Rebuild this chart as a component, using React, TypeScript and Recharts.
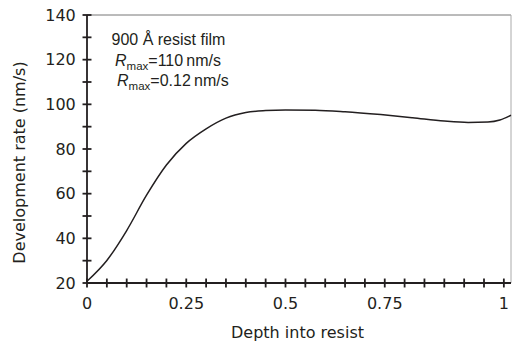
import { Line, LineChart, ReferenceLine, XAxis, YAxis } from "recharts"

// depth into resist (axis units) and development rate (nm/s)
const depth = [0, 0.05, 0.1, 0.15, 0.2, 0.25, 0.3, 0.35, 0.4, 0.45, 0.5, 0.575, 0.65, 0.74, 0.82, 0.9, 0.96, 1.01, 1.04, 1.068]
const rate = [20.8, 30.1, 43.5, 59.3, 72.8, 82.5, 89, 93.8, 96.3, 97.2, 97.5, 97.4, 96.7, 95.4, 94.0, 92.5, 91.9, 92.1, 93.0, 95.1]

const xTicks = [0, 0.05, 0.1, 0.15, 0.2, 0.25, 0.3, 0.35, 0.4, 0.45, 0.5, 0.55, 0.6, 0.65, 0.7, 0.75, 0.8, 0.85, 0.9, 0.95, 1, 1.05]
const xTickLabels: Record<string, string> = { "0": "0", "0.25": "0.25", "0.5": "0.5", "0.75": "0.75", "1.05": "1" }
const yTicks = [20, 30, 40, 50, 60, 70, 80, 90, 100, 110, 120, 130, 140]
const yTickLabels = [20, 40, 60, 80, 100, 120, 140]
const xMin = 0
const xMax = 1.068
const yMin = 20
const yMax = 140

const xTitle = "Depth into resist"
const yTitle = "Development rate (nm/s)"
const notes = ["900 Å resist film", "=110\u2009nm/s", "=0.12\u2009nm/s"]

const data = depth.map((d, i) => ({ depth: d, rate: rate[i] }))

const W = 512
const H = 345
const M = { top: 15, right: 1, left: 0, bottom: 0 }
const Y_AXIS_W = 87
const X_AXIS_H = 62
const plotRight = W - M.right
const plotBottom = H - M.bottom - X_AXIS_H

const INK = "#231f20"
const AXIS_FONT = "'DejaVu Sans', sans-serif"
const OFFSET = 12 // axis tickSize, only used to push the labels out
const X_GAP = 2
const Y_GAP = -0.8
// half length of the crossing tick marks, in axis units (about 4.5px)
const X_TICK_HALF = 2.0 // rate units, for ticks on the depth axis
const Y_TICK_HALF = 0.0113 // depth units, for ticks on the rate axis

function XTick(props: any) {
  const label = xTickLabels[String(props.payload.value)]
  if (!label) return <g />
  return (
    <text x={props.x} y={props.y} dy="0.73em" textAnchor="middle" fontSize={16} fontFamily={AXIS_FONT} fill={INK}>
      {label}
    </text>
  )
}

function YTick(props: any) {
  if (!yTickLabels.includes(props.payload.value)) return <g />
  return (
    <text x={props.x} y={props.y} dy="0.36em" textAnchor="end" fontSize={16} fontFamily={AXIS_FONT} fill={INK}>
      {props.payload.value}
    </text>
  )
}

export default function App() {
  const plotMidX = (Y_AXIS_W + plotRight) / 2
  const yTitleY = (M.top + plotBottom) / 2 + 13.5
  return (
    <div style={{ position: "relative", width: W, height: H, background: "#fff" }}>
      <style>{"body{margin:0}"}</style>
      <LineChart width={W} height={H} data={data} margin={M}>
        <XAxis
          dataKey="depth"
          type="number"
          domain={[xMin, xMax]}
          ticks={xTicks}
          interval={0}
          tickSize={OFFSET}
          tickMargin={X_GAP}
          tickLine={false}
          tick={(p: any) => <XTick {...p} />}
          axisLine={{ stroke: INK, strokeWidth: 1.8 }}
          height={X_AXIS_H}
        />
        <YAxis
          type="number"
          domain={[yMin, yMax]}
          ticks={yTicks}
          interval={0}
          tickSize={OFFSET}
          tickMargin={Y_GAP}
          tickLine={false}
          tick={(p: any) => <YTick {...p} />}
          axisLine={{ stroke: INK, strokeWidth: 1.8 }}
          width={Y_AXIS_W}
        />
        {/* frame */}
        <ReferenceLine y={yMax} stroke="#777" strokeWidth={1} />
        <ReferenceLine x={xMax} stroke="#aaa" strokeWidth={1} />
        {/* crossing tick marks on both axes */}
        {xTicks.map((v) => (
          <ReferenceLine
            key={`xt-${v}`}
            segment={[
              { x: v, y: yMin - X_TICK_HALF },
              { x: v, y: yMin + X_TICK_HALF },
            ]}
            stroke={INK}
            strokeWidth={1.8}
            ifOverflow="visible"
          />
        ))}
        {yTicks.map((v) => (
          <ReferenceLine
            key={`yt-${v}`}
            segment={[
              { x: xMin - Y_TICK_HALF, y: v },
              { x: xMin + Y_TICK_HALF, y: v },
            ]}
            stroke={INK}
            strokeWidth={1.8}
            ifOverflow="visible"
          />
        ))}
        <Line
          type="monotone"
          dataKey="rate"
          stroke={INK}
          strokeWidth={1.5}
          dot={false}
          isAnimationActive={false}
        />
      </LineChart>

      {/* axis titles and the annotation block */}
      <svg width={W} height={H} style={{ position: "absolute", left: 0, top: 0, pointerEvents: "none" }}>
        <text x={plotMidX - 1.5} y={plotBottom + 55} textAnchor="middle" fontSize={16} fontFamily={AXIS_FONT} fill={INK}>
          {xTitle}
        </text>
        <text
          x={25}
          y={yTitleY}
          transform={`rotate(-90 25 ${yTitleY})`}
          textAnchor="middle"
          fontSize={16}
          fontFamily={AXIS_FONT}
          fill={INK}
        >
          {yTitle}
        </text>
        <g fontFamily="'Liberation Sans', Arial, sans-serif" fontSize={16} fill={INK}>
          <text x={111.5} y={45}>{notes[0]}</text>
          <text x={115} y={65.5}>
            <tspan fontStyle="italic">R</tspan>
            <tspan fontSize={11.5} dy={4}>max</tspan>
            <tspan dy={-4}>{notes[1]}</tspan>
          </text>
          <text x={117} y={86}>
            <tspan fontStyle="italic">R</tspan>
            <tspan fontSize={11.5} dy={4}>max</tspan>
            <tspan dy={-4}>{notes[2]}</tspan>
          </text>
        </g>
      </svg>
    </div>
  )
}
